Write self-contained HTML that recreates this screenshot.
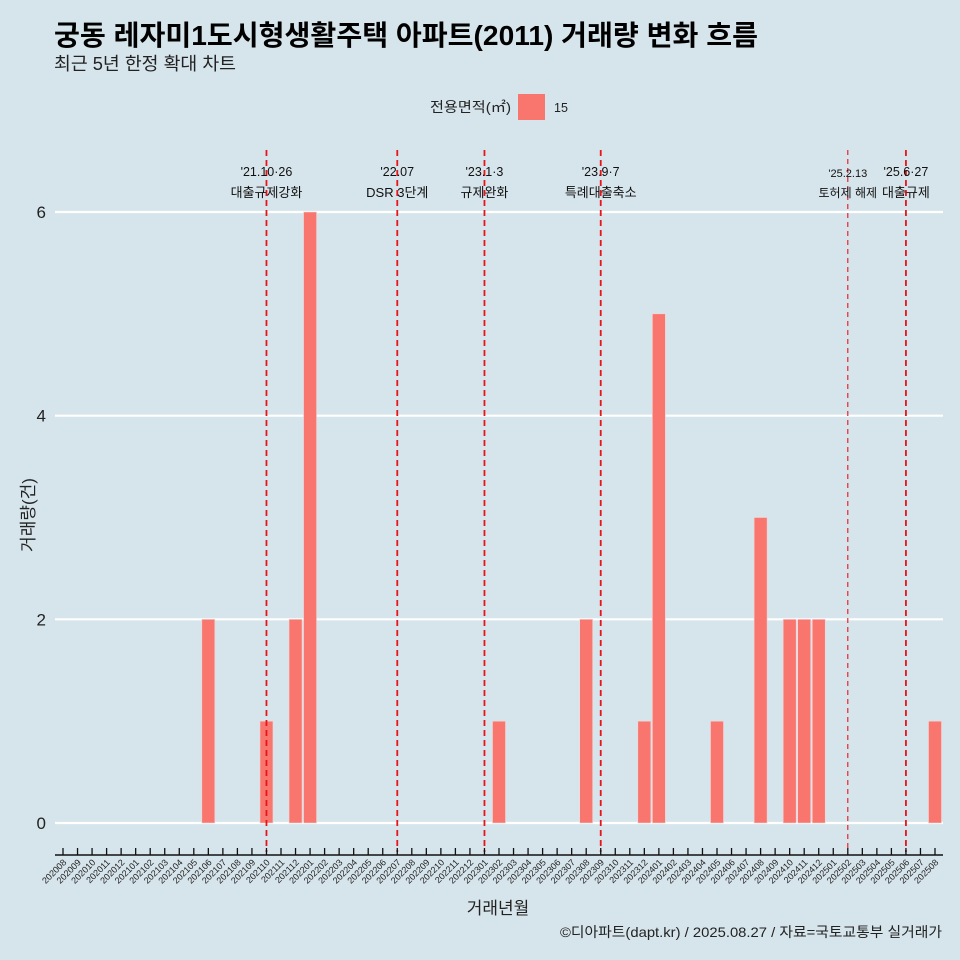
<!DOCTYPE html>
<html><head><meta charset="utf-8"><style>
body{margin:0;background:#d6e4eb;}
svg{display:block;font-family:"Liberation Sans","Noto Sans CJK KR",sans-serif;}
</style></head><body>
<svg id="chart" width="960" height="960" viewBox="0 0 960 960">
<rect width="960" height="960" fill="#d6e4eb"/>
<text x="54" y="45" font-size="28" font-weight="bold" fill="#000" textLength="704" lengthAdjust="spacingAndGlyphs">궁동 레자미1도시형생활주택 아파트(2011) 거래량 변화 흐름</text>
<text x="54" y="70" font-size="18" fill="#222" textLength="182" lengthAdjust="spacingAndGlyphs">최근 5년 한정 확대 차트</text>
<g>
<text x="430" y="112" font-size="14" fill="#222" textLength="81" lengthAdjust="spacingAndGlyphs">전용면적(㎡)</text>
<rect x="518" y="94" width="27" height="26" fill="#f8766d"/>
<text x="554" y="112" font-size="12.5" fill="#222">15</text>
</g>
<g id="grid"></g><g id="bars"></g><g id="events"></g><g id="xaxis"></g><g id="yaxis"></g>
<text transform="translate(34,515) rotate(-90)" text-anchor="middle" font-size="17" fill="#222">거래량(건)</text>
<text x="498" y="914" text-anchor="middle" font-size="17" fill="#222">거래년월</text>
<text x="942" y="937" text-anchor="end" font-size="14" fill="#222" textLength="382" lengthAdjust="spacingAndGlyphs">©디아파트(dapt.kr) / 2025.08.27 / 자료=국토교통부 실거래가</text>
</svg>
<script>
const categories=[];for(let y=2020;y<=2025;y++)for(let m=1;m<=12;m++){const k=y*100+m;if(k>=202008&&k<=202508)categories.push(String(k));}
const barMonths=["202106","202110","202112","202201","202302","202308","202312","202401","202405","202408","202410","202411","202412","202508"];
const barValues=[2,1,2,6,1,2,1,5,1,3,2,2,2,1];
const yTicks=[0,2,4,6];
const eventMonths=["202110","202207","202301","202309","202502","202506"];
const eventDates=["'21.10·26","'22.07","'23.1·3","'23.9·7","'25.2.13","'25.6·27"];
const eventLabels=["대출규제강화","DSR 3단계","규제완화","특례대출축소","토허제 해제","대출규제"];
const NS="http://www.w3.org/2000/svg";
const x0=63,step=(935-63)/(categories.length-1);
const xs=c=>x0+categories.indexOf(c)*step;
const ys=v=>823-v*(823-212)/6;
function mk(t,a,p){const e=document.createElementNS(NS,t);for(const k in a)e.setAttribute(k,a[k]);document.getElementById(p).appendChild(e);return e;}
yTicks.forEach(v=>{
 const l=mk('line',{x1:55,x2:943,y1:ys(v),y2:ys(v),stroke:'#fff','stroke-width':2.2},'grid');
 
 
 const t=mk('text',{x:46,y:ys(v)+6,'text-anchor':'end','font-size':17,fill:'#222'},'yaxis');t.textContent=v;
 
 
});
barMonths.forEach((c,i)=>{
 const x=xs(c),v=barValues[i];
 const r=mk('rect',{x:x-6.5,y:ys(v),width:13,height:ys(0)-ys(v),fill:'#f8766d',stroke:'#f3d6d6','stroke-width':0.6},'bars');
 
 
});
mk('line',{x1:55,x2:943,y1:855,y2:855,stroke:'#111','stroke-width':1.5},'xaxis');
categories.forEach(c=>{
 const x=xs(c);
 mk('line',{x1:x,x2:x,y1:848,y2:855,stroke:'#111','stroke-width':1.3},'xaxis');
 const t=mk('text',{transform:`translate(${x+4},${863}) rotate(-45)`,'text-anchor':'end','font-size':9,fill:'#222'},'xaxis');t.textContent=c;
 
 
});
eventMonths.forEach((c,i)=>{
 const x=xs(c),thin=c==="202502";
 const l=mk('line',{x1:x,x2:x,y1:150,y2:852,stroke:'#e8141a','stroke-width':thin?1.1:1.8,'stroke-dasharray':thin?'5,4':'6,4'},'events');
 
 
 const t1=mk('text',{x:x,y:thin?177:176,'text-anchor':'middle','font-size':thin?11:12.5,fill:'#111'},'events');t1.textContent=eventDates[i];
 
 
 const t2=mk('text',{x:x,y:197,'text-anchor':'middle','font-size':thin?12:13,fill:'#111'},'events');t2.textContent=eventLabels[i];
 
 
});
</script>
</body></html>
